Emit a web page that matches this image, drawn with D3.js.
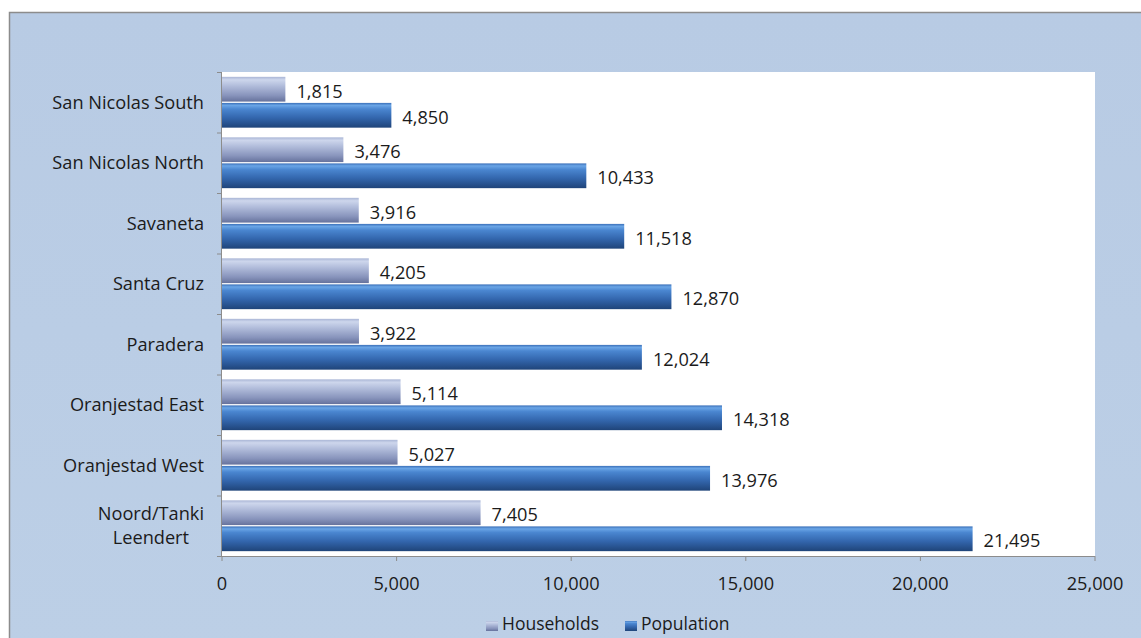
<!DOCTYPE html>
<html>
<head>
<meta charset="utf-8">
<script src="https://cdn.jsdelivr.net/npm/d3@7"></script>
<style>
html,body{margin:0;padding:0;background:#fff;}
svg{display:block;}
text{font-family:"Open Sans",Lato,sans-serif;fill:#1b1b1b;}
</style>
</head>
<body>
<svg id="chart" width="1141" height="638"></svg>
<script>
const categories = ["San Nicolas South","San Nicolas North","Savaneta","Santa Cruz","Paradera","Oranjestad East","Oranjestad West","Noord/Tanki Leendert"];
const households = [1815,3476,3916,4205,3922,5114,5027,7405];
const population = [4850,10433,11518,12870,12024,14318,13976,21495];
const seriesNames = ["Households","Population"];
const xTicks = [0,5000,10000,15000,20000,25000];

const svg = d3.select("#chart");
const W = 1141, H = 638;
const plot = {left:222, right:1095, top:72, bottom:556};
const FS = 18.2;

const defs = svg.append("defs");
const bgGrad = defs.append("linearGradient").attr("id","bg").attr("x1",0).attr("y1",0).attr("x2",0).attr("y2",1);
bgGrad.append("stop").attr("offset","0%").attr("stop-color","#b8cbe4");
bgGrad.append("stop").attr("offset","100%").attr("stop-color","#bccfe6");

const hg = defs.append("linearGradient").attr("id","hh").attr("x1",0).attr("y1",0).attr("x2",0).attr("y2",1);
[["0%","#aab6d6"],["12%","#cdd6ec"],["35%","#b3bedc"],["75%","#8894bc"],["100%","#66729c"]].forEach(s=>hg.append("stop").attr("offset",s[0]).attr("stop-color",s[1]));
const pg = defs.append("linearGradient").attr("id","pop").attr("x1",0).attr("y1",0).attr("x2",0).attr("y2",1);
[["0%","#3a6fb8"],["10%","#6aa5e6"],["25%","#4a86d0"],["60%","#3366ad"],["100%","#1f4479"]].forEach(s=>pg.append("stop").attr("offset",s[0]).attr("stop-color",s[1]));

// panel
svg.append("rect").attr("x",9.5).attr("y",12.5).attr("width",W).attr("height",H)
  .attr("fill","url(#bg)").attr("stroke","#8c8c8c").attr("stroke-width",1.5);
svg.append("rect").attr("x",plot.left).attr("y",plot.top)
  .attr("width",plot.right-plot.left).attr("height",plot.bottom-plot.top).attr("fill","#ffffff");

const x = d3.scaleLinear().domain([0,25000]).range([plot.left,plot.right]);
const y = d3.scaleBand().domain(categories).range([plot.top,plot.bottom]).paddingInner(0.16).paddingOuter(0.08);
const yOuter = d3.scaleBand().domain(categories).range([plot.top,plot.bottom]);
const sub = d3.scaleBand().domain(seriesNames).range([0,y.bandwidth()]).paddingInner(0.05);

const data = categories.map((c,i)=>({cat:c, vals:[{s:"Households",v:households[i]},{s:"Population",v:population[i]}]}));

const g = svg.append("g");
const rows = g.selectAll("g.row").data(data).join("g").attr("class","row")
  .attr("transform",d=>`translate(0,${y(d.cat)})`);
rows.selectAll("rect").data(d=>d.vals).join("rect")
  .attr("x",x(0)).attr("y",d=>sub(d.s))
  .attr("width",d=>x(d.v)-x(0)).attr("height",sub.bandwidth())
  .attr("fill",d=>d.s==="Households"?"url(#hh)":"url(#pop)");
rows.selectAll("text").data(d=>d.vals).join("text")
  .attr("x",d=>x(d.v)+11).attr("y",d=>sub(d.s)+sub.bandwidth()/2+2)
  .attr("dy","0.35em").attr("font-size",FS).text(d=>d3.format(",")(d.v));

// axes lines
svg.append("line").attr("x1",plot.left).attr("x2",plot.right).attr("y1",plot.bottom+0.5).attr("y2",plot.bottom+0.5).attr("stroke","#8c8c8c");
svg.append("line").attr("x1",plot.left-0.5).attr("x2",plot.left-0.5).attr("y1",plot.top).attr("y2",plot.bottom).attr("stroke","#8c8c8c");
const bounds = categories.map(c=>yOuter(c)).concat([plot.bottom]);
svg.selectAll("line.yt").data(bounds).join("line").attr("class","yt")
  .attr("x1",plot.left-5).attr("x2",plot.left).attr("y1",d=>d+0.5).attr("y2",d=>d+0.5).attr("stroke","#8c8c8c");
svg.selectAll("line.xt").data(xTicks).join("line").attr("class","xt")
  .attr("x1",d=>x(d)).attr("x2",d=>x(d)).attr("y1",plot.bottom).attr("y2",plot.bottom+5).attr("stroke","#8c8c8c");
svg.selectAll("text.xl").data(xTicks).join("text").attr("class","xl")
  .attr("x",d=>x(d)).attr("y",584).attr("dy","0.35em").attr("text-anchor","middle")
  .attr("font-size",FS).text(d=>d3.format(",")(d));

// y labels
const labelRight = 204;
categories.forEach(c=>{
  const cy = yOuter(c)+yOuter.bandwidth()/2;
  if (c === "Noord/Tanki Leendert") {
    const lines = ["Noord/Tanki","Leendert"];
    const t = svg.append("text").attr("font-size",FS).attr("text-anchor","middle");
    lines.forEach((l,i)=>t.append("tspan").attr("x",0).attr("y",cy-12+i*24).attr("dy","0.35em").text(l));
    const w = t.node().getBBox().width;
    t.attr("transform",`translate(${labelRight-w/2},0)`);
  } else {
    svg.append("text").attr("x",labelRight).attr("y",cy).attr("dy","0.35em")
      .attr("text-anchor","end").attr("font-size",FS).text(c);
  }
});

// legend
const legend = svg.append("g");
const lx = [486, 625];
seriesNames.forEach((s,i)=>{
  legend.append("rect").attr("x",lx[i]).attr("y",621).attr("width",12).attr("height",10)
    .attr("fill",i===0?"url(#hh)":"url(#pop)");
  legend.append("text").attr("x",lx[i]+16).attr("y",624).attr("dy","0.35em").attr("font-size",17.5).text(s);
});
</script>
</body>
</html>
